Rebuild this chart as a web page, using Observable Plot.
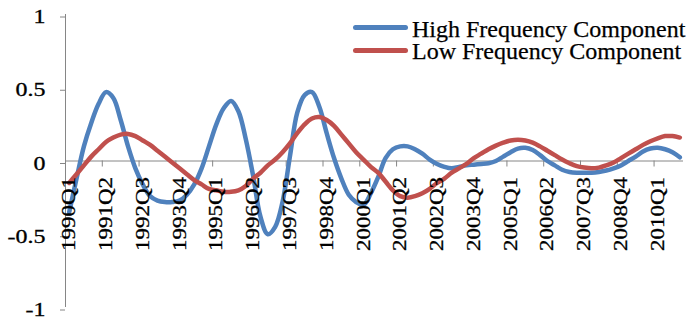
<!DOCTYPE html>
<html><head><meta charset="utf-8">
<script src="https://cdn.jsdelivr.net/npm/d3@7"></script>
<script src="https://cdn.jsdelivr.net/npm/@observablehq/plot@0.6"></script>
<style>
html,body{margin:0;padding:0;background:#fff;}
#wrap{position:relative;width:687px;height:317px;font-family:"Liberation Serif","Times New Roman",serif;}
.leg{position:absolute;left:412px;font-size:24px;line-height:22px;height:22px;color:#000;white-space:nowrap;-webkit-text-stroke:0.25px #000;}
.sw{position:absolute;left:353px;width:55px;height:5px;border-radius:2.5px;}
</style></head><body><div id="wrap"></div>
<script>
// Quarterly categories 1990Q1 .. 2010Q4
const startYear = 1990, nQuarters = 84;
const quarters = [];
for (let i = 0; i < nQuarters; i++) quarters.push(`${startYear + Math.floor(i / 4)}Q${(i % 4) + 1}`);

const tickLabels = ["1990Q1","1991Q2","1992Q3","1993Q4","1995Q1","1996Q2","1997Q3","1998Q4","2000Q1","2001Q2","2002Q3","2003Q4","2005Q1","2006Q2","2007Q3","2008Q4","2010Q1"];
const yTicks = [-1, -0.5, 0, 0.5, 1];

const highFreq = [
 -0.35,-0.12,0.10,0.26,0.39,0.47,0.43,0.28,0.10,-0.05,
 -0.16,-0.24,-0.27,-0.28,-0.28,-0.27,-0.23,-0.16,-0.05,0.10,
 0.25,0.36,0.41,0.34,0.15,-0.10,-0.38,-0.50,-0.45,-0.28,
 0.03,0.33,0.45,0.47,0.37,0.19,0.02,-0.12,-0.23,-0.28,
 -0.30,-0.22,-0.11,0.02,0.08,0.10,0.10,0.08,0.05,0.01,
 -0.02,-0.04,-0.05,-0.04,-0.03,-0.025,-0.02,-0.015,0.00,0.03,
 0.06,0.085,0.09,0.075,0.04,0.00,-0.03,-0.06,-0.075,-0.08,
 -0.08,-0.08,-0.075,-0.065,-0.05,-0.03,0.00,0.03,0.065,0.085,
 0.09,0.08,0.06,0.025
];
const lowFreq = [
 -0.15,-0.09,-0.03,0.03,0.08,0.13,0.16,0.18,0.185,0.17,
 0.14,0.11,0.07,0.03,-0.01,-0.05,-0.09,-0.13,-0.16,-0.19,
 -0.20,-0.21,-0.21,-0.20,-0.17,-0.12,-0.08,-0.03,0.01,0.06,
 0.12,0.19,0.25,0.29,0.30,0.28,0.24,0.18,0.12,0.06,
 0.01,-0.04,-0.08,-0.14,-0.20,-0.24,-0.25,-0.24,-0.22,-0.19,
 -0.15,-0.12,-0.08,-0.05,-0.02,0.02,0.05,0.08,0.105,0.125,
 0.14,0.145,0.14,0.125,0.10,0.07,0.04,0.01,-0.015,-0.035,
 -0.045,-0.05,-0.045,-0.03,-0.01,0.02,0.05,0.08,0.11,0.135,
 0.155,0.17,0.17,0.16
];

const seriesNames = ["High Frequency Component", "Low Frequency Component"];
const seriesColors = ["#4F81BD", "#C0504D"];

const rows = [];
quarters.forEach((q, i) => {
  rows.push({i, q, v: highFreq[i], s: seriesNames[0]});
  rows.push({i, q, v: lowFreq[i], s: seriesNames[1]});
});
const labelRows = tickLabels.map(l => ({i: quarters.indexOf(l), l}));
const tickPos = labelRows.map(d => d.i - 0.5);
const yTickText = yTicks.map(d => String(d));

const axisGray = "#868686";
const chart = Plot.plot({
  width: 687, height: 317,
  marginLeft: 65, marginRight: 4, marginTop: 14, marginBottom: 10,
  style: {fontFamily: '"Liberation Serif","Times New Roman",serif', background: "#fff"},
  x: {type: "linear", domain: [-0.5, nQuarters - 0.5], axis: null},
  y: {domain: [-1, 1], axis: null},
  color: {domain: seriesNames, range: seriesColors},
  marks: [
    Plot.axisY({ticks: yTicks, tickFormat: d => String(d), label: null, tickSize: 5, tickPadding: 15, stroke: axisGray, fill: "#000", fontSize: 19, dy: 2.5}),
    Plot.ruleX([-0.5], {y1: -1, y2: 1, stroke: axisGray}),
    Plot.ruleY([0], {stroke: axisGray}),
    Plot.ruleX(tickPos, {x: d => d, y1: 0, y2: 0, insetBottom: -6, stroke: axisGray}),
    Plot.line(rows, {x: "i", y: "v", z: "s", stroke: "s", strokeWidth: 4.5, curve: "catmull-rom", strokeLinejoin: "round", strokeLinecap: "round"}),
    Plot.text(labelRows, {x: "i", y: () => 0, text: "l", rotate: -90, textAnchor: "end", dy: 16, fontSize: 19, fill: "#000"})
  ]
});
const wrap = document.getElementById("wrap");
wrap.appendChild(chart);

// stretch axis text like the reference, keeping the end of each label fixed
function stretchTexts(match, k) {
  chart.querySelectorAll("text").forEach(t => {
    if (!match(t.textContent)) return;
    const len = t.getComputedTextLength();
    const L = len * k;
    t.setAttribute("text-anchor", "start");
    t.setAttribute("x", (-L).toFixed(2));
    t.setAttribute("textLength", L.toFixed(2));
    t.setAttribute("lengthAdjust", "spacingAndGlyphs");
    t.setAttribute("stroke", "#000");
    t.setAttribute("stroke-width", "0.3");
  });
}
stretchTexts(s => tickLabels.includes(s), 1.21);
stretchTexts(s => yTickText.includes(s), 1.26);

// legend
seriesNames.forEach((name, k) => {
  const sw = document.createElement("div");
  sw.className = "sw";
  sw.style.top = (24.8 + 23 * k) + "px";
  sw.style.background = seriesColors[k];
  wrap.appendChild(sw);
  const tx = document.createElement("div");
  tx.className = "leg";
  tx.style.top = (17.9 + 22.5 * k) + "px";
  tx.textContent = name;
  wrap.appendChild(tx);
});
</script></body></html>
